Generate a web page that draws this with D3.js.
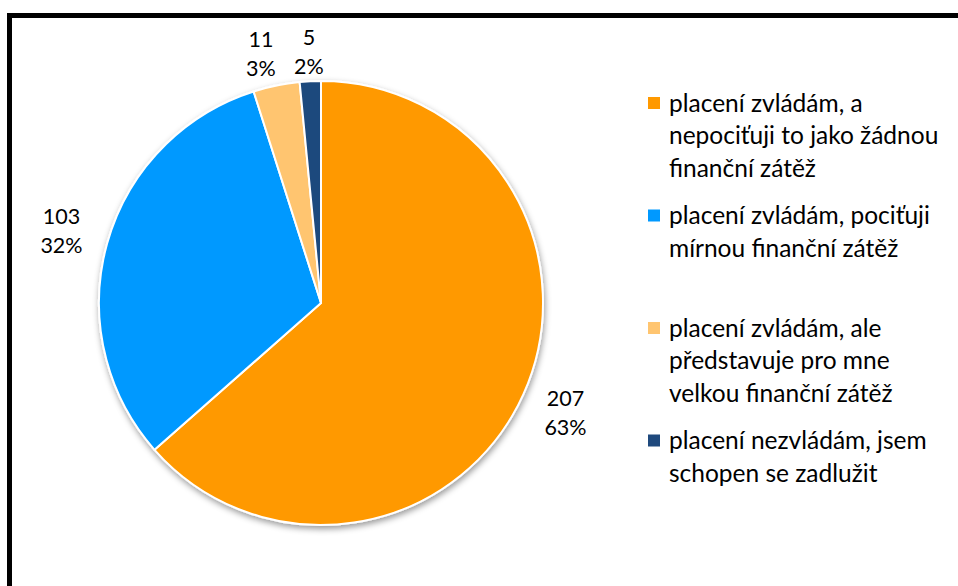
<!DOCTYPE html>
<html>
<head>
<meta charset="utf-8">
<script src="https://cdn.jsdelivr.net/npm/d3@7"></script>
<style>
  html, body { margin: 0; padding: 0; background: #fff; }
  svg { display: block; }
</style>
</head>
<body>
<svg id="chart" width="958" height="586"></svg>
<script>
// Responses: how households manage the payment
const categories = [
  ["placení zvládám, a", "nepociťuji to jako žádnou", "finanční zátěž"],
  ["placení zvládám, pociťuji", "mírnou finanční zátěž"],
  ["placení zvládám, ale", "představuje pro mne", "velkou finanční zátěž"],
  ["placení nezvládám, jsem", "schopen se zadlužit"]
];
const values = [207, 103, 11, 5];
const colors = ["#FF9900", "#0099FF", "#FFC570", "#1F497D"];

const W = 958, H = 586;
const cx = 321, cy = 303, radius = 222;
const fontFamily = "Lato, 'Open Sans', sans-serif";

const svg = d3.select("#chart");

// soft shadow under the pie
const defs = svg.append("defs");
const shadow = defs.append("filter").attr("id", "pieShadow")
  .attr("x", "-10%").attr("y", "-10%").attr("width", "125%").attr("height", "125%");
shadow.append("feDropShadow")
  .attr("dx", 1).attr("dy", 3).attr("stdDeviation", 3)
  .attr("flood-color", "#000").attr("flood-opacity", 0.4);

// outer frame
svg.append("rect")
  .attr("x", 9.5).attr("y", 15.5)
  .attr("width", W + 20).attr("height", H + 20)
  .attr("fill", "none").attr("stroke", "#000").attr("stroke-width", 5);

const total = d3.sum(values);
const pie = d3.pie().sort(null).value(d => d)(values);
const arc = d3.arc().innerRadius(0).outerRadius(radius);

const g = svg.append("g").attr("transform", `translate(${cx},${cy})`);

g.append("g").attr("filter", "url(#pieShadow)")
  .selectAll("path").data(pie).join("path")
  .attr("d", arc)
  .attr("fill", (d, i) => colors[i])
  .attr("stroke", "#fff").attr("stroke-width", 2).attr("stroke-linejoin", "round");

// data labels outside the slices: value and share
const labels = pie.map((d, i) => {
  const a = (d.startAngle + d.endAngle) / 2;
  const r = radius + 28 + 20 * Math.abs(Math.sin(a));
  return {
    x: r * Math.sin(a),
    y: -r * Math.cos(a),
    value: values[i],
    pct: Math.round(values[i] / total * 100) + "%"
  };
});
// push neighbouring small labels apart horizontally
for (let i = labels.length - 2; i >= 0; i--) {
  const a = labels[i], b = labels[i + 1];
  if (Math.abs(a.y - b.y) < 40 && b.x - a.x < 48 && b.x >= a.x) a.x = b.x - 48;
}

const lab = g.selectAll("text.lab").data(labels).join("text")
  .attr("class", "lab")
  .attr("text-anchor", "middle")
  .attr("font-family", fontFamily)
  .attr("font-size", 21.5)
  .attr("fill", "#000");
lab.append("tspan").attr("x", d => d.x).attr("y", d => d.y - 7).text(d => d.value);
lab.append("tspan").attr("x", d => d.x).attr("y", d => d.y + 22).text(d => d.pct);

// legend
const legend = svg.append("g").attr("transform", "translate(648,103)");
const items = legend.selectAll("g").data(categories).join("g")
  .attr("transform", (d, i) => `translate(0,${i * 112.5})`);
items.append("rect")
  .attr("x", 0).attr("y", -6).attr("width", 12).attr("height", 12)
  .attr("fill", (d, i) => colors[i]);
items.append("text")
  .attr("font-family", fontFamily)
  .attr("font-size", 24.5)
  .attr("fill", "#000")
  .selectAll("tspan").data(d => d).join("tspan")
  .attr("x", 21).attr("y", (d, j) => 8.5 + j * 32.5)
  .text(d => d);
</script>
</body>
</html>
